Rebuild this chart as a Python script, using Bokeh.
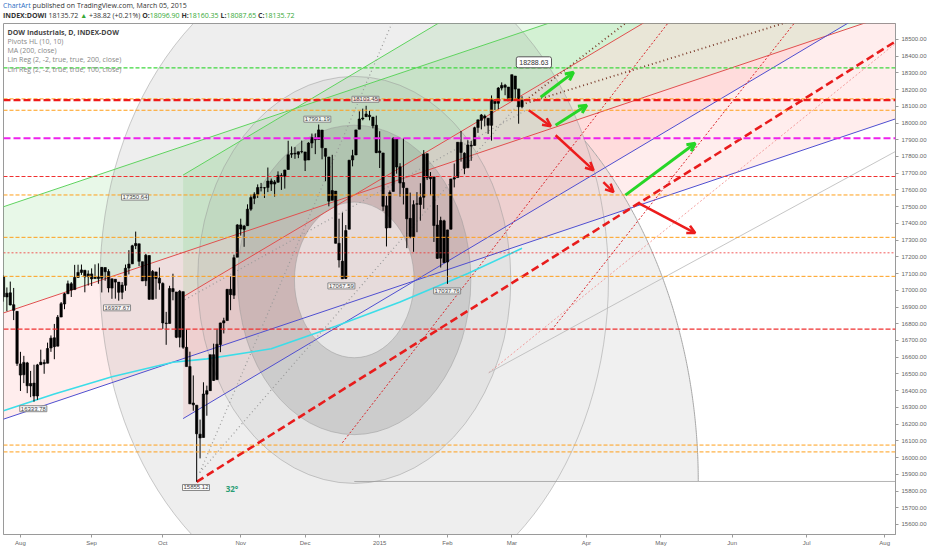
import numpy as np
from bokeh.plotting import figure
from bokeh.models import (Span, Label, Arrow, OpenHead, FixedTicker, NumeralTickFormatter,
                          SingleIntervalTicker, Range1d, Div, ColumnDataSource)
from bokeh.layouts import column
from bokeh.embed import file_html
from bokeh.resources import INLINE

# -- daily candles, bar 0 = 1 Aug 2014 (first bar is 24 Jul 2014)
first_bar = -6
opens = [17087, 17081, 16960, 16985, 16914, 16874,
         16560, 16495, 16566, 16428, 16445, 16368, 16555, 16568, 16564, 16655, 16716, 16666, 16840, 16918, 16979,
         17039, 17004, 17077, 17107, 17120, 17081,
         17098, 17070, 17080, 17072, 17136, 17112, 17013, 17066, 17049, 16988, 17030, 17133, 17158, 17267, 17278,
         17171, 17057, 17208, 16946, 17110, 17072,
         17041, 16804, 16802, 17010, 16990, 16719, 16992, 16659, 16544, 16326, 16313, 16140, 16120, 16379, 16400,
         16615, 16466, 16676, 16805, 16819, 17006, 16971, 17198,
         17391, 17364, 17386, 17485, 17550, 17573, 17614, 17613, 17614, 17654, 17635, 17646, 17686, 17681, 17722,
         17813, 17819, 17813, 17830,
         17827, 17779, 17880, 17910, 17902, 17958, 17848, 17797, 17538, 17593, 17281, 17174, 17071, 17365, 17779,
         17809, 17963, 18024, 18038, 18047, 18036, 17987,
         17823, 17821, 17505, 17374, 17591, 17907, 17738, 17644, 17610, 17430, 17320, 17517, 17513, 17556, 17817,
         17667, 17678, 17390, 17192, 17415,
         17169, 17365, 17665, 17674, 17885, 17819, 17732, 17867, 17866, 17973, 18016, 18042, 18029, 17986, 18137,
         18118, 18209, 18226, 18215,
         18134, 18281, 18204, 18097]
highs = [17151, 17081, 17017, 17052, 17014, 16874,
         16632, 16608, 16572, 16518, 16555, 16560, 16645, 16586, 16687, 16730, 16799, 16852, 16930, 16985, 17058,
         17049, 17152, 17153, 17154, 17120, 17119,
         17131, 17155, 17161, 17139, 17136, 17126, 17068, 17066, 17049, 17049, 17154, 17240, 17272, 17351, 17278,
         17171, 17218, 17208, 17121, 17110, 17136,
         17047, 16871, 17027, 17099, 16990, 17002, 16992, 16766, 16633, 16491, 16313, 16227, 16450, 16430, 16614,
         16681, 16770, 16806, 16836, 17006, 17083, 17213, 17395,
         17428, 17391, 17514, 17572, 17586, 17633, 17642, 17617, 17734, 17668, 17659, 17711, 17700, 17720, 17894,
         17860, 17856, 17829, 17895,
         17827, 17885, 17937, 17938, 17991, 17958, 17848, 17797, 17810, 17593, 17428, 17464, 17390, 17778, 17840,
         17959, 18070, 18086, 18103, 18073, 18036, 18044,
         17951, 17821, 17563, 17597, 17916, 17907, 17760, 17908, 17610, 17584, 17538, 17587, 17640, 17838, 17817,
         17707, 17678, 17510, 17440, 17422,
         17362, 17666, 17758, 17885, 17952, 17825, 17897, 17893, 17978, 18019, 18054, 18051, 18029, 18165, 18137,
         18215, 18243, 18234, 18215,
         18289, 18281, 18204, 18160]
lows = [17064, 16932, 16875, 16910, 16822, 16548,
        16398, 16445, 16385, 16361, 16334, 16345, 16555, 16501, 16564, 16632, 16588, 16666, 16840, 16887, 16979,
        16960, 17004, 17077, 17092, 16988, 17028,
        17026, 17070, 17039, 16987, 17057, 16987, 16949, 16950, 16938, 16947, 16997, 17095, 17158, 17246, 17144,
        17055, 17025, 16944, 16946, 16949, 17003,
        16769, 16674, 16802, 16940, 16714, 16659, 16650, 16544, 16321, 16280, 15855, 15995, 16120, 16250, 16400,
        16458, 16466, 16630, 16742, 16819, 16881, 16948, 17198,
        17327, 17260, 17386, 17475, 17515, 17552, 17591, 17552, 17587, 17594, 17560, 17644, 17600, 17608, 17722,
        17792, 17786, 17790, 17819,
        17713, 17779, 17850, 17814, 17902, 17783, 17652, 17502, 17538, 17280, 17136, 17068, 17067, 17365, 17741,
        17809, 17963, 18016, 18038, 18016, 17968, 17820,
        17731, 17475, 17262, 17374, 17591, 17697, 17560, 17513, 17252, 17311, 17230, 17347, 17416, 17487, 17659,
        17568, 17289, 17187, 17136, 17164,
        17038, 17365, 17615, 17674, 17769, 17694, 17732, 17774, 17866, 17941, 17962, 17980, 17935, 17895, 18077,
        18083, 18195, 18166, 18132,
        18134, 18132, 17996, 18088]
closes = [17084, 16961, 16983, 16912, 16880, 16563,
          16493, 16569, 16429, 16443, 16368, 16554, 16570, 16561, 16652, 16714, 16663, 16839, 16920, 16979, 17039,
          17001, 17077, 17107, 17122, 17080, 17098,
          17068, 17078, 17070, 17137, 17111, 17014, 17069, 17049, 16988, 17031, 17132, 17157, 17266, 17280, 17173,
          17056, 17210, 16946, 17113, 17071, 17043,
          16805, 16801, 17010, 16992, 16719, 16994, 16659, 16544, 16321, 16315, 16142, 16117, 16380, 16400, 16615,
          16461, 16678, 16805, 16818, 17006, 16974, 17195, 17391,
          17366, 17384, 17485, 17554, 17574, 17614, 17615, 17612, 17653, 17635, 17648, 17688, 17686, 17719, 17810,
          17818, 17815, 17828, 17828,
          17777, 17880, 17913, 17900, 17959, 17852, 17801, 17533, 17596, 17281, 17181, 17069, 17357, 17778, 17805,
          17959, 18024, 18030, 18054, 18038, 17983, 17823,
          17833, 17502, 17372, 17585, 17908, 17737, 17641, 17614, 17427, 17321, 17512, 17515, 17554, 17814, 17673,
          17679, 17387, 17191, 17417, 17165,
          17361, 17666, 17673, 17885, 17824, 17729, 17869, 17862, 17972, 18019, 18048, 18030, 17986, 18140, 18117,
          18209, 18225, 18214, 18133,
          18289, 18203, 18097, 18136]

month_ticks = [0, 21, 42, 65, 84, 106, 126, 145, 167, 189, 210, 232, 255]
month_labels = ["Aug", "Sep", "Oct", "Nov", "Dec", "2015", "Feb", "Mar", "Apr", "May", "Jun", "Jul", "Aug"]

# 200-day moving average, read at a few bars
ma_bars = [-5, 10, 27, 45, 55, 74, 93, 112, 132, 148]
ma_vals = [16280, 16380, 16483, 16570, 16590, 16650, 16785, 16930, 17100, 17251]

# linear regression channels (200 and 100 bars): start/end bar, mid price at start/end, deviation
lr_x0 = [-52, 48]
lr_x1 = [260, 260]
lr_mid0 = [16544, 16961]
lr_mid1 = [18672, 19516]
lr_dev = [635, 728]

# horizontal levels
level_prices = [18329.58, 18144.46, 18136.54, 18076.32, 17908.40, 17680.26, 17569.82, 17316.56,
                17223.97, 17083.31, 16767.69, 16074.69, 16033.70]
level_colors = ["#3fd83f", "#ff9f1a", "#ee1a1a", "#ff9f1a", "#ee22ee", "#f03030", "#ff9f1a", "#ff9f1a",
                "#f03030", "#ff9f1a", "#f03030", "#ff9f1a", "#ff9f1a"]
level_widths = [1.3, 1, 2.2, 1, 2, 1.2, 1, 1, 0.8, 1, 1.4, 1, 1]
level_dashes = ["4 2", "4 2", "7 3", "4 2", "7 3", "4 2", "4 2", "4 2", "2 2", "4 2", "5 2", "4 2", "4 2"]

# price badges on the axis
badge_text = ["18329.58", "18144.46", "18136.54", "18135.72", "18076.32", "17908.40", "17680.26",
              "17569.82", "17316.56", "17250.90", "17223.97", "17083.31", "16767.69", "16074.69", "16033.70"]
badge_y = [18329, 18236, 18190, 18142, 18082, 17909, 17680, 17570, 17317, 17236, 17188, 17083, 16768,
           16084, 16026]
badge_bg = ["#10e010", "#f7a21b", "#f01a1a", "#111111", "#f7a21b", "#ff10ff", "#f01a1a", "#f7a21b",
            "#f7a21b", "#22f0f0", "#f01a1a", "#f7a21b", "#f01a1a", "#f7a21b", "#f7a21b"]
badge_fg = ["#114411", "#4a3000", "white", "white", "#4a3000", "white", "white", "#4a3000",
            "#4a3000", "#105050", "white", "#4a3000", "white", "#4a3000", "#4a3000"]

# pivot high / low labels
pivot_text = ["16333.78", "16937.67", "17350.64", "15855.12", "17991.19", "17067.59", "18103.45", "17037.76"]
pivot_x = [3.8, 28.5, 33.8, 51.8, 87.6, 94.7, 101.8, 125.9]
pivot_y = [16292, 16895, 17557, 15821, 18023, 17026, 18142, 16996]

# fib circles: centre, widths (bars) and heights (points)
circ_x, circ_y = 98.5, 17062
circ_w = [150, 92.4, 68.8, 35.3]
circ_h = [3962, 2434, 1850, 931]
circ_fill = ["#8a8a8a", "#8a8a8a", "#6a6a6a", "#ffffff"]
circ_alpha = [0.15, 0.10, 0.19, 0.5]
# outer speed arc: centre and radii
arc_x, arc_y, arc_rx, arc_ry = 98.5, 15857, 101.5, 2745

# trend lines: x0, y0, x1, y1
trend_x0 = [52, 95, 156.8, 138.2, 138.2, 52.9, 52.9, 48.5, 149.1, 149.1]
trend_y0 = [15855, 16089, 16764, 16507, 16507, 15910, 15910, 16943, 18136, 18118]
trend_x1 = [258.2, 191.2, 228.5, 258.2, 258.2, 109.7, 147.9, 149.1, 178.8, 225.9]
trend_y1 = [18488, 18601, 18601, 18476, 17830, 18601, 18136, 18076, 18601, 18601]
trend_color = ["#e81c1c", "#d9262b", "#d9262b", "#f08a8a", "#b8b8b8", "#9a9a9a", "#9a9a9a", "#9a9a9a",
               "#7a3a2a", "#7a3a2a"]
trend_width = [2.6, 1, 1, 0.8, 0.8, 1.2, 1.2, 1.2, 1.8, 1.8]
trend_dash = ["8 4", "2 2", "2 2", "2 2", "solid", "1 3", "1 3", "1 3", "1 3", "1 3"]

# forecast arrows
up_x0 = [153.5, 157.9, 178.5]
up_y0 = [18154, 17987, 17569]
up_x1 = [163.2, 167.1, 199.1]
up_y1 = [18303, 18106, 17879]
dn_x0 = [150.0, 157.9, 172.0, 182.4]
dn_y0 = [18076, 17927, 17647, 17521]
dn_x1 = [156.5, 169.1, 175.0, 199.1]
dn_y1 = [17981, 17718, 17587, 17342]

legend_lines = ["DOW Industrials, D, INDEX-DOW", "Pivots HL (10, 10)", "MA (200, close)",
                "Lin Reg (2, -2, true, true, 200, close)", "Lin Reg (2, -2, true, true, 100, close)"]

x_lo, x_hi = -5.0, 258.2
y_lo, y_hi = 15540, 18595

p = figure(width=926, height=526, x_range=Range1d(x_lo, x_hi), y_range=Range1d(y_lo, y_hi),
           y_axis_location="right", output_backend="svg", toolbar_location=None,
           min_border_left=0, min_border_right=30, min_border_top=1, min_border_bottom=13,
           background_fill_color="white", border_fill_color="white", outline_line_color="#9a9a9a",
           margin=(0, 0, 0, 3))
p.grid.visible = False

# regression channel fills
for x0, x1, m0, m1, dev in zip(lr_x0, lr_x1, lr_mid0, lr_mid1, lr_dev):
    p.patch([x0, x1, x1, x0], [m0, m1, m1 + dev, m0 + dev], fill_color="#00b400", fill_alpha=0.09, line_alpha=0)
    p.patch([x0, x1, x1, x0], [m0 - dev, m1 - dev, m1, m0], fill_color="#ff1a1a", fill_alpha=0.08, line_alpha=0)

# outer speed arc: band between the arc and the largest circle
ra, rb = circ_w[0] / 2, circ_h[0] / 2
th = np.linspace(0, np.pi / 2, 400)
bx = arc_x + arc_rx * np.cos(th)
by = arc_y + arc_ry * np.sin(th)
out_a = ((bx - circ_x) / ra) ** 2 + ((by - circ_y) / rb) ** 2 > 1
bx, by = bx[out_a], by[out_a]
ph = np.linspace(np.pi / 2, -np.pi / 2, 400)
cx_ = circ_x + ra * np.cos(ph)
cy_ = circ_y + rb * np.sin(ph)
keep = (cy_ >= arc_y) & (((cx_ - arc_x) / arc_rx) ** 2 + ((cy_ - arc_y) / arc_ry) ** 2 <= 1)
p.patch(np.r_[bx, cx_[keep]], np.r_[by, cy_[keep]], fill_color="#8a8a8a", fill_alpha=0.13, line_alpha=0)
p.line(bx, by, color="#a8a8a8", line_width=1)
p.line([circ_x, x_hi], [arc_y, arc_y], color="#b4b4b4", line_width=1)

for w, h, fc, fa in zip(circ_w, circ_h, circ_fill, circ_alpha):
    p.ellipse(x=circ_x, y=circ_y, width=w, height=h, fill_color=fc, fill_alpha=fa,
              line_color="#9a9a9a", line_alpha=0.5)

# regression lines
for x0, x1, m0, m1, dev in zip(lr_x0, lr_x1, lr_mid0, lr_mid1, lr_dev):
    p.line([x0, x1], [m0 + dev, m1 + dev], color="#5fd35f", line_width=1)
    p.line([x0, x1], [m0, m1], color="#e0504f", line_width=1)
    p.line([x0, x1], [m0 - dev, m1 - dev], color="#4f4fd0", line_width=1)

for x0, y0, x1, y1, c, w, d in zip(trend_x0, trend_y0, trend_x1, trend_y1, trend_color, trend_width, trend_dash):
    p.line([x0, x1], [y0, y1], color=c, line_width=w, line_dash=d)

p.line(ma_bars, ma_vals, color="#3cdde8", line_width=1.6)

# candles
bars = list(range(first_bar, first_bar + len(closes)))
src = ColumnDataSource(dict(x=bars, h=highs, l=lows,
                            top=[max(o, c) for o, c in zip(opens, closes)],
                            bot=[min(o, c) for o, c in zip(opens, closes)]))
p.segment("x", "h", "x", "l", source=src, color="black", line_width=1)
p.vbar("x", 0.7, "top", "bot", source=src, fill_color="black", line_color="black", line_width=0.6)

for lp, lc, lw, ld in zip(level_prices, level_colors, level_widths, level_dashes):
    p.add_layout(Span(location=lp, dimension="width", line_color=lc, line_width=lw, line_dash=ld))

for xs, ys, xe, ye in zip(up_x0, up_y0, up_x1, up_y1):
    p.add_layout(Arrow(end=OpenHead(size=8, line_color="#27d627", line_width=3), x_start=xs, y_start=ys,
                       x_end=xe, y_end=ye, line_color="#27d627", line_width=3))
for xs, ys, xe, ye in zip(dn_x0, dn_y0, dn_x1, dn_y1):
    p.add_layout(Arrow(end=OpenHead(size=8, line_color="#ec1c1c", line_width=2.5), x_start=xs, y_start=ys,
                       x_end=xe, y_end=ye, line_color="#ec1c1c", line_width=2.5))

for tx, px_, py_ in zip(pivot_text, pivot_x, pivot_y):
    p.add_layout(Label(x=px_, y=py_, text=tx, text_font="Liberation Sans", text_font_size="6px",
                       text_color="#444444", text_align="center", text_baseline="middle",
                       background_fill_color="white", background_fill_alpha=0.75,
                       border_line_color="#888888", padding=1))
p.add_layout(Label(x=151.5, y=18363, text="18288.63", text_font="Liberation Sans", text_font_size="7px",
                   text_color="#333333", text_align="center", text_baseline="middle",
                   background_fill_color="white", border_line_color="#555555", padding=3, border_radius=2))
p.add_layout(Label(x=62.4, y=15813, text="32°", text_font="Open Sans", text_font_size="8px",
                   text_font_style="bold", text_color="#2a9d74", text_align="center", text_baseline="middle"))

for i, txt in enumerate(legend_lines):
    p.add_layout(Label(x=-3.8, y=18542 - 55 * i, text=txt, text_font="Open Sans", text_font_size="7px",
                       text_color="#444444" if i == 0 else "#888888",
                       text_font_style="bold" if i == 0 else "normal", text_baseline="middle"))

for txt, by_, bg, fg in zip(badge_text, badge_y, badge_bg, badge_fg):
    p.add_layout(Label(x=x_hi, y=by_, text=txt, text_font="Liberation Sans", text_font_size="6px",
                       text_color=fg, text_align="left", text_baseline="middle", x_offset=1,
                       background_fill_color=bg, padding=1))

p.yaxis.ticker = SingleIntervalTicker(interval=100)
p.yaxis.formatter = NumeralTickFormatter(format="0.00")
p.xaxis.ticker = FixedTicker(ticks=month_ticks)
p.xaxis.major_label_overrides = {t_: lab for t_, lab in zip(month_ticks, month_labels)}
for ax in (p.xaxis, p.yaxis):
    ax.major_label_text_font = "Liberation Sans"
    ax.major_label_text_font_size = "6px"
    ax.major_label_text_color = "#666666"
    ax.axis_line_color = "#9a9a9a"
    ax.major_tick_line_color = "#9a9a9a"
    ax.major_tick_out = 3
    ax.major_tick_in = 0
    ax.minor_tick_line_color = None
    ax.major_label_standoff = 2

header = Div(text=('<span style="color:#2d6fc4">ChartArt</span> published on TradingView.com, March 05, 2015<br>'
                   '<b>INDEX:DOWI</b> 18135.72 <span style="color:#35a835">&#9650;</span> +38.82 (+0.21%) '
                   '<b>O:</b><span style="color:#35a835">18096.90</span> '
                   '<b>H:</b><span style="color:#35a835">18160.35</span> '
                   '<b>L:</b><span style="color:#35a835">18087.65</span> '
                   '<b>C:</b><span style="color:#35a835">18135.72</span>'),
             width=620, height=21, margin=(1, 0, 0, 3),
             styles={"font-family": "'Open Sans', sans-serif", "font-size": "7px",
                     "line-height": "10px", "color": "#333333"})

layout = column(header, p, spacing=0)
open("out.html", "w").write(file_html(layout, INLINE))
